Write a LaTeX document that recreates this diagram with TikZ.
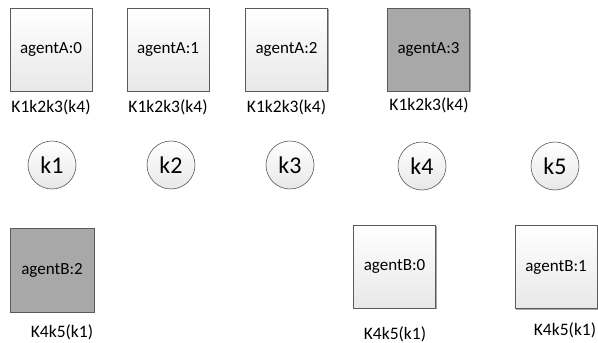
\documentclass[tikz,border=0pt]{standalone}
\usepackage{fontspec}
\setmainfont{Carlito}
\usetikzlibrary{shadows}
\definecolor{boxline}{HTML}{5A5A5A}
\definecolor{graybox}{HTML}{A8A8A8}
\definecolor{lightbot}{HTML}{E8E8E8}
\tikzset{
  agentbox/.style={draw=boxline, line width=0.8pt, minimum width=82pt, minimum height=83pt,
    inner sep=0pt, top color=white, bottom color=lightbot, font=\fontsize{17}{20}\selectfont,
    drop shadow={shadow xshift=1.2pt, shadow yshift=-1.2pt, opacity=0.35, fill=black}},
  darkbox/.style={agentbox, top color=graybox, bottom color=graybox},
  keycircle/.style={draw=boxline, line width=0.6pt, circle, minimum size=48pt, inner sep=0pt,
    top color=white, bottom color=lightbot, font=\fontsize{24}{28}\selectfont},
  lbl/.style={inner sep=0pt, font=\fontsize{17.5}{20}\selectfont}
}
\begin{document}
\begin{tikzpicture}[x=1pt,y=-1pt]
\useasboundingbox (0,0) rectangle (598,343);
\fill[white] (0,0) rectangle (598,343);
% top row
\node[agentbox] (a0) at (51,49.5) {agentA:0};
\node[agentbox] (a1) at (168,49.5) {agentA:1};
\node[agentbox] (a2) at (286.5,49.5) {agentA:2};
\node[darkbox] (a3) at (428.5,49.5) {agentA:3};
\node[lbl] (la0) at (51,107) {K1k2k3(k4)};
\node[lbl] (la1) at (168,107) {K1k2k3(k4)};
\node[lbl] (la2) at (286.5,107) {K1k2k3(k4)};
\node[lbl] (la3) at (429,105) {K1k2k3(k4)};
% keys
\node[keycircle] (k1) at (52,165) {k1};
\node[keycircle] (k2) at (171,165) {k2};
\node[keycircle] (k3) at (290,165) {k3};
\node[keycircle] (k4) at (422,166) {k4};
\node[keycircle] (k5) at (555,166) {k5};
% bottom row
\node[darkbox, minimum width=84pt, minimum height=84pt] (b2) at (52,270) {agentB:2};
\node[agentbox] (b0) at (394.5,266.5) {agentB:0};
\node[agentbox] (b1) at (556,267) {agentB:1};
\node[lbl] (lb2) at (62,332) {K4k5(k1)};
\node[lbl] (lb0) at (395,334) {K4k5(k1)};
\node[lbl] (lb1) at (565,330) {K4k5(k1)};
\end{tikzpicture}
\end{document}
